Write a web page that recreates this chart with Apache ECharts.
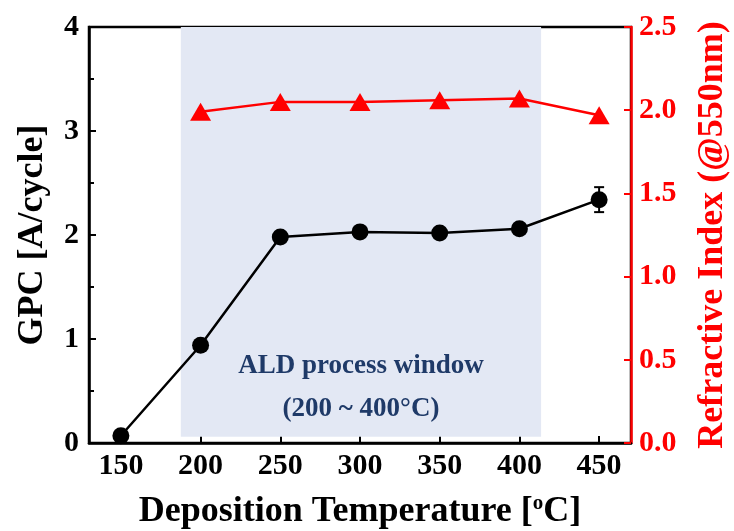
<!DOCTYPE html>
<html>
<head>
<meta charset="utf-8">
<script src="https://cdn.jsdelivr.net/npm/echarts@6/dist/echarts.min.js"></script>
<style>
  html, body { margin: 0; padding: 0; background: #fff; }
  #chart { width: 734px; height: 531px; }
</style>
</head>
<body>
<div id="chart"></div>
<script>
  // deposition temperatures (°C)
  const temps = [150, 200, 250, 300, 350, 400, 450];
  // growth per cycle [A/cycle] and its error
  const gpc = [0.07, 0.94, 1.98, 2.03, 2.02, 2.06, 2.34];
  const gpcErr = [0, 0, 0, 0.04, 0, 0.02, 0.12];
  // refractive index @550nm, measured from 200 °C
  const riTemps = [200, 250, 300, 350, 400, 450];
  const ri = [1.99, 2.05, 2.05, 2.06, 2.07, 1.97];
  // ALD window shading (x range, y range on GPC axis)
  const windowX = [187.6, 413.6];
  const windowY = [0.06, 4];
  const xTicks = [150, 200, 250, 300, 350, 400, 450];

  const serif = '"Liberation Serif", "Times New Roman", serif';
  const chart = echarts.init(document.getElementById('chart'));

  const option = {
    backgroundColor: '#fff',
    animation: false,
    grid: {
      left: 89, right: 103, top: 27, bottom: 88,
      outerBoundsMode: 'none', containLabel: false,
      show: true, borderColor: '#000', borderWidth: 2.5, backgroundColor: 'transparent'
    },
    xAxis: {
      type: 'value', min: 130, max: 470,
      axisLine: { show: true, lineStyle: { color: '#000', width: 2.5 } },
      axisTick: { show: true, inside: true, length: 7, customValues: xTicks, lineStyle: { color: '#000', width: 2 } },
      axisLabel: {
        customValues: xTicks, color: '#000', fontFamily: serif, fontWeight: 'bold',
        fontSize: 30, margin: 8
      },
      splitLine: { show: false },
      name: '{t|Deposition Temperature [}{s|o}{t|C]}',
      nameLocation: 'middle', nameGap: 50,
      nameTextStyle: {
        rich: {
          t: { fontFamily: serif, fontWeight: 'bold', fontSize: 36, color: '#000' },
          s: { fontFamily: serif, fontWeight: 'bold', fontSize: 21, color: '#000', verticalAlign: 'top', padding: [0, 0, 16, 0] }
        }
      }
    },
    yAxis: [
      {
        type: 'value', min: 0, max: 4, interval: 1,
        axisLine: { show: true, lineStyle: { color: '#000', width: 2.5 } },
        axisTick: { show: true, inside: true, length: 7, lineStyle: { color: '#000', width: 2 } },
        minorTick: { show: true, splitNumber: 2, length: 5, lineStyle: { color: '#000', width: 2 } },
        axisLabel: { color: '#000', fontFamily: serif, fontWeight: 'bold', fontSize: 30, margin: 10 },
        splitLine: { show: false },
        name: 'GPC [A/cycle]', nameLocation: 'middle', nameGap: 38, nameRotate: 90,
        nameTextStyle: { fontFamily: serif, fontWeight: 'bold', fontSize: 36, color: '#000' }
      },
      {
        type: 'value', min: 0, max: 2.5, interval: 0.5, position: 'right',
        axisLine: { show: true, lineStyle: { color: '#ff0000', width: 2.5 } },
        axisTick: { show: true, inside: true, length: 7, lineStyle: { color: '#ff0000', width: 2 } },
        axisLabel: {
          color: '#ff0000', fontFamily: serif, fontWeight: 'bold', fontSize: 30, margin: 8,
          formatter: v => v.toFixed(1)
        },
        splitLine: { show: false },
        name: 'Refractive Index (@550nm)', nameLocation: 'middle', nameGap: 64, nameRotate: 90,
        nameTextStyle: { fontFamily: serif, fontWeight: 'bold', fontSize: 36, color: '#ff0000' }
      }
    ],
    series: [
      {
        type: 'line', yAxisIndex: 0, z: 1, silent: true,
        data: [],
        markArea: {
          silent: true,
          itemStyle: { color: '#e3e8f4' },
          data: [[{ coord: [windowX[0], windowY[0]] }, { coord: [windowX[1], windowY[1]] }]]
        }
      },
      {
        name: 'GPC', type: 'line', yAxisIndex: 0, z: 3,
        data: temps.map((t, i) => [t, gpc[i]]),
        symbol: 'circle', symbolSize: 17,
        itemStyle: { color: '#000' },
        lineStyle: { color: '#000', width: 2.5 }
      },
      {
        name: 'GPC error', type: 'custom', yAxisIndex: 0, z: 4,
        data: temps.map((t, i) => [t, gpc[i] - gpcErr[i], gpc[i] + gpcErr[i]]).filter((d, i) => gpcErr[i] > 0),
        renderItem: (params, api) => {
          const lo = api.coord([api.value(0), api.value(1)]);
          const hi = api.coord([api.value(0), api.value(2)]);
          const w = 5;
          const st = { stroke: '#000', lineWidth: 2 };
          return {
            type: 'group',
            children: [
              { type: 'line', shape: { x1: lo[0], y1: lo[1], x2: hi[0], y2: hi[1] }, style: st },
              { type: 'line', shape: { x1: lo[0] - w, y1: lo[1], x2: lo[0] + w, y2: lo[1] }, style: st },
              { type: 'line', shape: { x1: hi[0] - w, y1: hi[1], x2: hi[0] + w, y2: hi[1] }, style: st }
            ]
          };
        }
      },
      {
        name: 'RI', type: 'line', yAxisIndex: 1, z: 3,
        data: riTemps.map((t, i) => [t, ri[i]]),
        symbol: 'triangle', symbolSize: [21, 18],
        itemStyle: { color: '#ff0000' },
        lineStyle: { color: '#ff0000', width: 2.5 }
      }
    ],
    graphic: [
      {
        type: 'text', x: 361, y: 345, z: 10,
        style: {
          text: 'ALD process window\n(200 ~ 400°C)', align: 'center', lineHeight: 43,
          fontFamily: serif, fontWeight: 'bold', fontSize: 27, fill: '#1f3a68'
        }
      }
    ]
  };

  chart.setOption(option);
</script>
</body>
</html>
